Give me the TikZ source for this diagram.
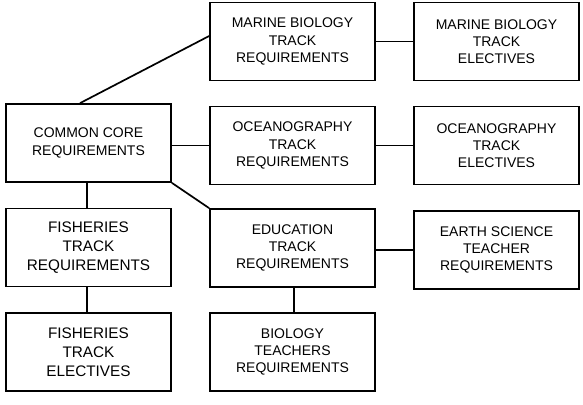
\documentclass[tikz,border=0pt]{standalone}
\usepackage{fontspec}
\setmainfont{Liberation Sans}
\begin{document}
\begin{tikzpicture}[x=1pt,y=-1pt,
  box/.style={draw, line width=1.7pt, minimum width=165pt, minimum height=78pt, inner sep=2pt,
    align=center, font=\fontsize{14}{17.3}\selectfont},
  bigbox/.style={box, font=\fontsize{15.3}{19}\selectfont},
  link/.style={line width=1.7pt}]
\useasboundingbox (0,0) rectangle (583,404);
\node[box] (mreq) at (292.5,41.5) {MARINE BIOLOGY\\TRACK\\REQUIREMENTS};
\node[box] (mel)  at (496.5,41.5) {MARINE BIOLOGY\\TRACK\\ELECTIVES};
\node[box] (core) at (88.5,143) {COMMON CORE\\REQUIREMENTS};
\node[box] (oreq) at (292.5,145.5) {OCEANOGRAPHY\\TRACK\\REQUIREMENTS};
\node[box] (oel)  at (496.5,145.5) {OCEANOGRAPHY\\TRACK\\ELECTIVES};
\node[bigbox] (freq) at (88.5,247.5) {FISHERIES\\TRACK\\REQUIREMENTS};
\node[box] (ereq) at (292.5,248) {EDUCATION\\TRACK\\REQUIREMENTS};
\node[box] (esci) at (496.5,250) {EARTH SCIENCE\\TEACHER\\REQUIREMENTS};
\node[bigbox] (fel)  at (88.5,352) {FISHERIES\\TRACK\\ELECTIVES};
\node[box] (bio)  at (292.5,352) {BIOLOGY\\TEACHERS\\REQUIREMENTS};
\draw[link] ([xshift=-8.5pt]core.north) -- ([yshift=5.5pt]mreq.west);
\draw[link] (oreq.west -| core.east) -- (oreq.west);
\draw[link] (core.south east) -- (ereq.north west);
\draw[link] ([xshift=-1.5pt]core.south) -- ([xshift=-1.5pt]freq.north);
\draw[link] ([xshift=-1.5pt]freq.south) -- ([xshift=-1.5pt]fel.north);
\draw[link] (mreq.east) -- (mel.west);
\draw[link] (oreq.east) -- (oel.west);
\draw[link] ([xshift=1.5pt]ereq.south) -- ([xshift=1.5pt]bio.north);
\draw[link] (esci.west -| ereq.east) -- (esci.west);
\end{tikzpicture}
\end{document}
